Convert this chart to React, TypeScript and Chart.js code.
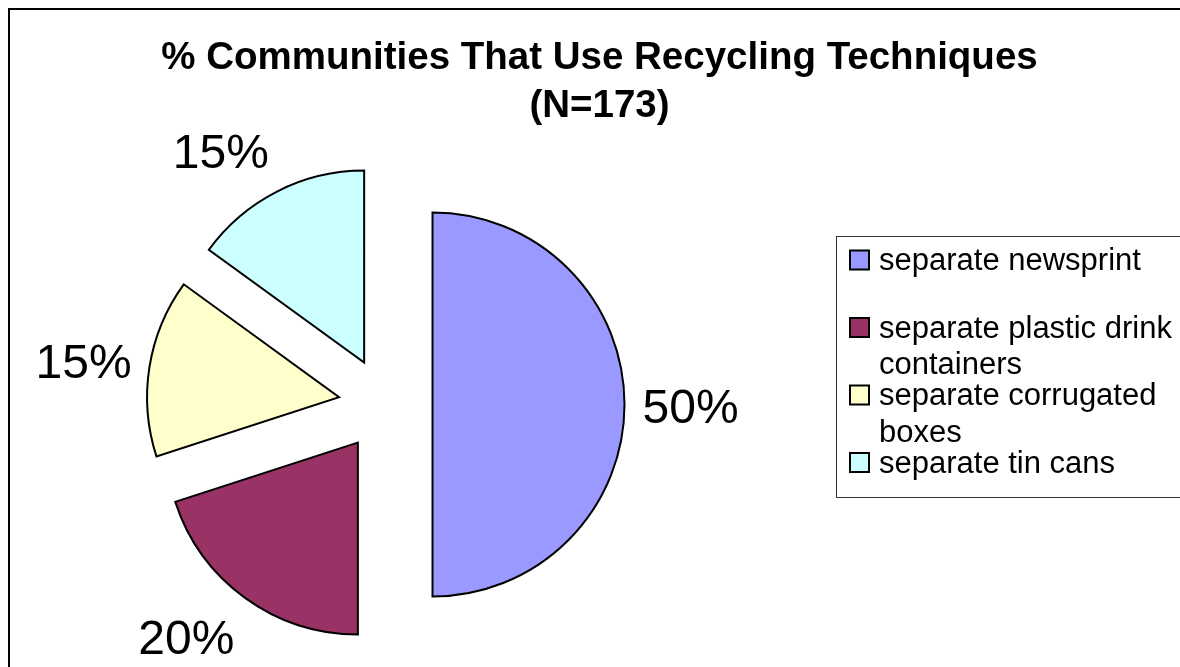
import React, { useEffect, useRef } from "react";
import { Chart, registerables } from "chart.js";

Chart.register(...registerables);

// ---- data ----
const TITLE_LINES = ["% Communities That Use Recycling Techniques", "(N=173)"];
const CATEGORIES = [
  "separate newsprint",
  "separate plastic drink containers",
  "separate corrugated boxes",
  "separate tin cans",
];
const VALUES = [50, 20, 15, 15];
const COLORS = ["#9999FF", "#993366", "#FFFFCC", "#CCFFFF"];

// ---- style / layout ----
const FONT = "'Liberation Sans', Arial, sans-serif";
const CANVAS_W = 1180;
const CANVAS_H = 680;
const RADIUS = 192;
const EXPLODE = 47;
const LABEL_FONT_SIZE = 48;
const TITLE_FONT_SIZE = 38.5;
const TITLE_X = 589.5;
const TITLE_FIRST_BASELINE = 59;
const TITLE_LINE_H = 47.5;
const LEGEND_BOX = { left: 826, top: 226, width: 372, height: 261 };
const LEGEND_FIRST_Y = 250;
const LEGEND_STEP = 67.5;
const LEGEND_LINE = 36.5;
const LEGEND_FONT_SIZE = 31;
const LEGEND_WRAP = 295;

const titlePlugin = {
  id: "centerTitle",
  afterDraw(chart: any) {
    const ctx = chart.ctx;
    ctx.save();
    ctx.font = `bold ${TITLE_FONT_SIZE}px ${FONT}`;
    ctx.fillStyle = "#000";
    ctx.textAlign = "center";
    ctx.textBaseline = "alphabetic";
    TITLE_LINES.forEach((ln, i) => {
      ctx.fillText(ln, TITLE_X, TITLE_FIRST_BASELINE + i * TITLE_LINE_H);
    });
    ctx.restore();
  },
};

const explodePlugin = {
  id: "explodeSlices",
  beforeDatasetDraw(chart: any, args: any) {
    const ctx = chart.ctx;
    args.meta.data.forEach((arc: any) => {
      const { startAngle, endAngle } = arc.getProps(["startAngle", "endAngle"], true);
      const mid = (startAngle + endAngle) / 2;
      ctx.save();
      ctx.translate(Math.cos(mid) * EXPLODE, Math.sin(mid) * EXPLODE);
      arc.draw(ctx, chart.chartArea);
      ctx.restore();
    });
    return false;
  },
};

const labelPlugin = {
  id: "pctLabels",
  afterDatasetsDraw(chart: any) {
    const ctx = chart.ctx;
    const meta = chart.getDatasetMeta(0);
    const data: number[] = chart.data.datasets[0].data;
    const total = data.reduce((a, b) => a + b, 0);
    ctx.save();
    ctx.font = `${LABEL_FONT_SIZE}px ${FONT}`;
    ctx.fillStyle = "#000";
    ctx.textAlign = "center";
    ctx.textBaseline = "alphabetic";
    meta.data.forEach((arc: any, i: number) => {
      const { x, y, startAngle, endAngle, outerRadius } = arc.getProps(
        ["x", "y", "startAngle", "endAngle", "outerRadius"],
        true
      );
      const mid = (startAngle + endAngle) / 2;
      const dx = Math.cos(mid);
      const dy = Math.sin(mid);
      const vx = x + dx * EXPLODE;
      const vy = y + dy * EXPLODE;
      const text = Math.round((data[i] / total) * 100) + "%";
      const w = ctx.measureText(text).width;
      const lx = vx + dx * (outerRadius + 18) + (Math.abs(dx) > 0.05 ? Math.sign(dx) * (w / 2) : 0);
      const ly = vy + dy * (outerRadius + 47) + 1;
      ctx.fillText(text, lx, ly + LABEL_FONT_SIZE * 0.358);
    });
    ctx.restore();
  },
};

function wrap(ctx: CanvasRenderingContext2D, text: string, maxW: number): string[] {
  const words = text.split(" ");
  const lines: string[] = [];
  let cur = "";
  words.forEach((w) => {
    const test = cur ? cur + " " + w : w;
    if (cur && ctx.measureText(test).width > maxW) {
      lines.push(cur);
      cur = w;
    } else {
      cur = test;
    }
  });
  if (cur) lines.push(cur);
  return lines;
}

const legendPlugin = {
  id: "boxLegend",
  afterDraw(chart: any) {
    const ctx = chart.ctx;
    const labels: string[] = chart.data.labels;
    const colors: string[] = chart.data.datasets[0].backgroundColor;
    ctx.save();
    ctx.lineWidth = 1;
    ctx.strokeStyle = "#333";
    ctx.fillStyle = "#fff";
    ctx.fillRect(LEGEND_BOX.left, LEGEND_BOX.top, LEGEND_BOX.width, LEGEND_BOX.height);
    ctx.strokeRect(LEGEND_BOX.left + 0.5, LEGEND_BOX.top + 0.5, LEGEND_BOX.width, LEGEND_BOX.height);
    ctx.font = `${LEGEND_FONT_SIZE}px ${FONT}`;
    ctx.textAlign = "left";
    ctx.textBaseline = "alphabetic";
    labels.forEach((lab, i) => {
      const cy = LEGEND_FIRST_Y + i * LEGEND_STEP;
      ctx.fillStyle = colors[i];
      ctx.fillRect(840, cy - 9.5, 19, 19);
      ctx.lineWidth = 2;
      ctx.strokeStyle = "#000";
      ctx.strokeRect(840, cy - 9.5, 19, 19);
      ctx.fillStyle = "#000";
      const lines = wrap(ctx, lab, LEGEND_WRAP);
      lines.forEach((ln, k) => {
        ctx.fillText(ln, 869, cy + 10 + k * LEGEND_LINE);
      });
    });
    ctx.restore();
  },
};

export default function App() {
  const ref = useRef<HTMLCanvasElement | null>(null);

  useEffect(() => {
    if (!ref.current) return;
    const chart = new Chart(ref.current, {
      type: "pie",
      data: {
        labels: CATEGORIES,
        datasets: [
          {
            data: VALUES,
            backgroundColor: COLORS,
            borderColor: "#000",
            borderWidth: 2,
            borderJoinStyle: "miter",
          } as any,
        ],
      },
      options: {
        responsive: false,
        animation: false,
        events: [],
        radius: RADIUS,
        layout: { padding: { left: 0, right: 429, top: 114, bottom: 5 } },
        plugins: {
          legend: { display: false },
          tooltip: { enabled: false },
          title: { display: false },
        },
      } as any,
      plugins: [explodePlugin, labelPlugin, legendPlugin, titlePlugin],
    });
    return () => chart.destroy();
  }, []);

  return (
    <div
      style={{
        position: "fixed",
        left: 8,
        top: 8,
        width: 1172,
        height: 659,
        overflow: "hidden",
        background: "#fff",
        borderLeft: "2px solid #000",
        borderTop: "2px solid #000",
        boxSizing: "border-box",
      }}
    >
      <canvas
        ref={ref}
        width={CANVAS_W}
        height={CANVAS_H}
        style={{ display: "block", width: CANVAS_W, height: CANVAS_H }}
      />
    </div>
  );
}
